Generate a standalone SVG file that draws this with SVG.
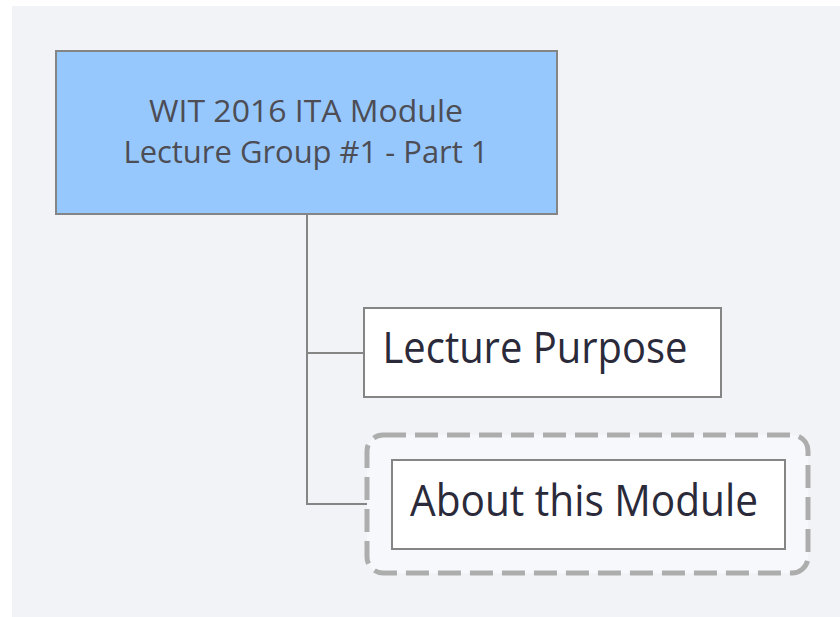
<svg xmlns="http://www.w3.org/2000/svg" width="840" height="617" viewBox="0 0 840 617">
<style>
.bg{fill:#f2f3f7}
.box{stroke:#858585;stroke-width:2}
.conn{fill:none;stroke:#858585;stroke-width:2}
.t{font-family:"Open Sans","Noto Sans",sans-serif;text-anchor:middle}
.root{fill:#4d4d55;font-size:31px}
.leaf{fill:#2a2a3a;font-size:44px}
.sel{fill:#f7f8fb;stroke:#adadad;stroke-width:5;stroke-dasharray:23 9}
</style>
<rect class="bg" x="12" y="6" width="828" height="611"/>
<g id="connectors">
<path class="conn" d="M307 215 V504 H391 M307 353 H363"/>
</g>
<g id="selection">
<rect class="sel" x="367" y="435" width="441" height="138" rx="16"/>
</g>
<g id="root">
<rect class="box" x="56" y="51" width="501" height="163" fill="#97c8fd"/>
<text class="t root" x="306" y="122" textLength="314" lengthAdjust="spacingAndGlyphs">WIT 2016 ITA Module</text>
<text class="t root" x="306" y="163" textLength="365" lengthAdjust="spacingAndGlyphs">Lecture Group #1 - Part 1</text>
</g>
<g id="lecture-purpose">
<rect class="box" x="364" y="308" width="357" height="89" fill="#ffffff"/>
<text class="t leaf" x="535" y="363" textLength="305" lengthAdjust="spacingAndGlyphs">Lecture Purpose</text>
</g>
<g id="about-module">
<rect class="box" x="392" y="460" width="393" height="89" fill="#ffffff"/>
<text class="t leaf" x="584" y="516" textLength="348" lengthAdjust="spacingAndGlyphs">About this Module</text>
</g>
</svg>
